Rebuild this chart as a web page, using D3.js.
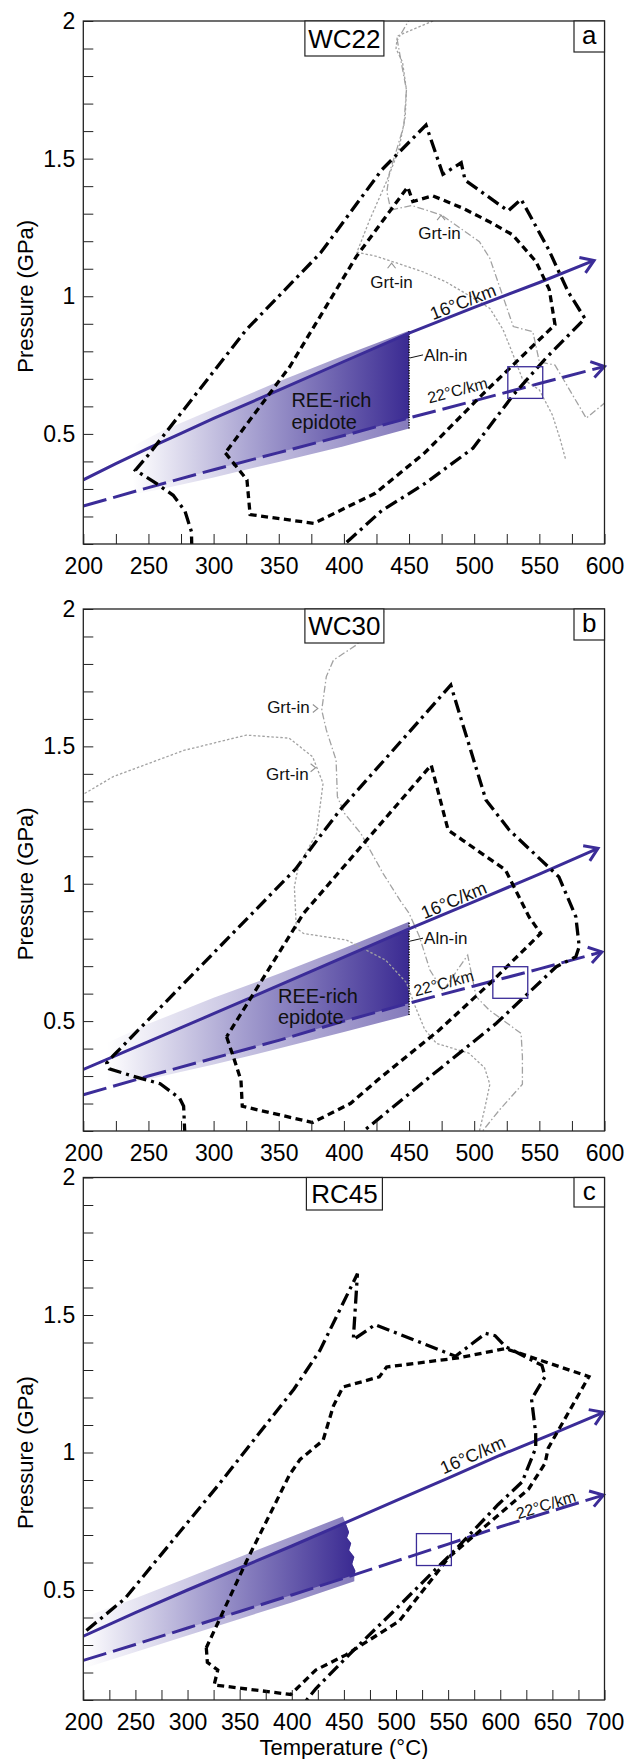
<!DOCTYPE html>
<html><head><meta charset="utf-8">
<script src="https://cdn.jsdelivr.net/npm/d3@7"></script>
<style>body{margin:0;background:#fff} svg{display:block}</style>
</head><body>
<svg id="chart" width="635" height="1759"></svg>
<script>
// ---------------- DATA (temperature °C, pressure GPa) ----------------
const xTickLabelsAB = [200,250,300,350,400,450,500,550,600];
const xTickLabelsC  = [200,250,300,350,400,450,500,550,600,650,700];
const yTickLabels   = [0.5,1,1.5,2];

// Panel a (WC22)
const aOuter = [[283.3,0.08],[283,0.145],[278,0.22],[269,0.277],[256,0.32],[240,0.368],[250,0.424],[325,0.878],[382,1.157],[429,1.459],[463,1.622],[476,1.443],[490,1.485],[493,1.422],[526,1.31],[536,1.352],[557,1.171],[572,1.017],[585,0.919],[555,0.775],[530,0.641],[499,0.448],[462,0.319],[429,0.221],[396,0.08]];
const aInner = [[309,0.431],[325.6,0.333],[328,0.207],[377,0.175],[424,0.284],[462,0.431],[505.6,0.64],[562,0.897],[557.6,1.025],[547.4,1.126],[529.5,1.223],[511.6,1.271],[491.2,1.32],[468.2,1.365],[452.9,1.344],[449,1.397],[409.5,1.144],[358.4,0.744],[309,0.431]];
const aGreyDot = [[478,2.02],[441,1.945],[440,1.9],[445,1.85],[448,1.75],[447,1.65],[442,1.53],[433,1.42],[420,1.28],[410,1.16],[425,1.145],[441,1.12],[460,1.09],[478,1.053],[497,1.0],[512,0.956],[522,0.88],[528,0.81],[537,0.7],[550,0.66],[560,0.569],[566,0.48],[570,0.41]];
const aGreyDD = [[452,2.02],[441,1.93],[444,1.85],[448,1.75],[446,1.62],[441,1.54],[435,1.45],[433,1.38],[436,1.313],[452,1.33],[475,1.295],[504,1.198],[512,1.138],[530,0.89],[545,0.871],[550,0.762],[562,0.75],[586,0.557],[602,0.62]];
const aGeo16 = [[200,0.333],[225,0.392],[250,0.448],[275,0.502],[300,0.556],[350,0.659],[400,0.763],[450,0.866],[500,0.96],[550,1.05],[592,1.13]];
const aGeo22 = [[200,0.238],[250,0.305],[300,0.37],[350,0.432],[400,0.494],[450,0.558],[500,0.62],[550,0.683],[600,0.745]];
const aBandTop = [[238,0.455],[260,0.51],[300,0.59],[350,0.69],[400,0.785],[450,0.875]];
const aBandBottom = [[450,0.52],[400,0.455],[350,0.398],[300,0.342],[260,0.3],[238,0.28]];
const aSquare = [[525.8,0.629],[552.6,0.744]];

// Panel b (WC30)
const bOuter = [[278,0.08],[277,0.19],[274,0.219],[259,0.272],[238,0.3],[220,0.326],[218,0.347],[223,0.374],[363,1.054],[382,1.175],[397,1.268],[482,1.723],[509,1.305],[527,1.195],[565,1.025],[578,0.88],[580.6,0.771],[578,0.734],[563,0.698],[517,0.492],[466,0.297],[410,0.08]];
const bInner = [[310,0.443],[316,0.358],[321,0.285],[322,0.19],[376,0.131],[405,0.2],[427,0.29],[473,0.467],[512,0.637],[551,0.819],[542,0.88],[524,1.05],[491,1.159],[480,1.195],[467,1.432],[369,0.892],[310,0.443]];
const bGreyDot = [[198,1.32],[223,1.39],[277,1.485],[325,1.541],[358,1.53],[376,1.462],[384,1.365],[379,1.183],[365,1.062],[362,0.989],[363.5,0.838],[369,0.819],[402,0.795],[432,0.722],[448,0.64],[455,0.55],[462,0.47],[471,0.419],[496,0.383],[508,0.33],[512,0.27],[508,0.18],[503,0.08]];
const bGreyDD = [[435,2.02],[422,1.93],[409.5,1.869],[392,1.814],[386.5,1.754],[383,1.632],[386.5,1.56],[394,1.45],[395,1.317],[400.5,1.256],[413,1.183],[430,1.038],[443,0.94],[450,0.893],[458,0.807],[466,0.686],[476,0.61],[495,0.74],[501.5,0.589],[511.6,0.54],[536,0.455],[537,0.37],[537,0.27],[520,0.18],[503,0.08]];
const bGeo16 = [[200,0.324],[250,0.425],[300,0.527],[350,0.63],[400,0.733],[450,0.836],[500,0.935],[550,1.035],[595,1.129]];
const bGeo22 = [[200,0.232],[250,0.3],[300,0.365],[350,0.43],[400,0.5],[450,0.565],[500,0.628],[550,0.69],[598,0.752]];
const bBandTop = [[218,0.42],[250,0.49],[300,0.585],[350,0.672],[400,0.765],[450,0.862]];
const bBandBottom = [[450,0.522],[400,0.46],[350,0.4],[300,0.342],[250,0.288],[218,0.262]];
const bSquare = [[514.3,0.583],[541.1,0.698]];

// Panel c (RC45)
const cOuter = [[203,0.353],[240,0.469],[329,0.879],[402,1.23],[427,1.371],[463,1.65],[459,1.41],[480,1.465],[557,1.35],[586,1.433],[595,1.425],[605,1.385],[640,1.317],[643,1.276],[630,1.194],[634,1.07],[634,1.016],[621,0.893],[598,0.811],[557,0.647],[497,0.42],[459,0.28],[423,0.141],[410,0.08]];
const cInner = [[318,0.29],[319,0.237],[329,0.209],[325.5,0.155],[399,0.12],[423,0.209],[452,0.264],[503,0.387],[551,0.62],[627,0.866],[643,0.961],[646,1.016],[685,1.276],[605,1.378],[560,1.344],[491,1.311],[484,1.275],[449,1.238],[440,1.17],[430,1.044],[408,0.975],[398,0.92],[357,0.608],[318,0.29]];
const cGeo16 = [[200,0.332],[250,0.418],[300,0.5],[350,0.58],[400,0.66],[450,0.742],[500,0.825],[550,0.907],[600,0.99],[650,1.068],[699,1.146]];
const cGeo22 = [[200,0.244],[250,0.302],[300,0.362],[350,0.422],[400,0.482],[450,0.543],[500,0.605],[550,0.667],[600,0.73],[650,0.788],[699,0.845]];
const cBandTop = [[200,0.40],[250,0.47],[300,0.545],[350,0.62],[400,0.695],[449,0.767]];
const cBandRight = [[452,0.74],[455,0.71],[453,0.69],[457,0.67],[455,0.645],[460,0.62],[458,0.595],[461,0.57],[460,0.545]];
const cBandBottom = [[460,0.532],[400,0.455],[350,0.395],[300,0.335],[250,0.275],[200,0.215]];
const cSquare = [[519.6,0.589],[553.1,0.705]];

// ---------------- PANEL TABLE ----------------
const panels = [
  {key:"a", sample:"WC22", letter:"a", tDomain:[200,600], xLabels:xTickLabelsAB, top:21, bottom:544,
   outer:aOuter, inner:aInner, greyDot:aGreyDot, greyDD:aGreyDD, geo16:aGeo16, geo22:aGeo22,
   band:aBandTop.concat(aBandBottom), bandT:[238,450], aln:{t:450,p0:0.52,p1:0.875,lp:0.787}, square:aSquare,
   l16:{t:494,off:3}, l22:{t:490,off:9},
   grt:[{t:473.3,p:1.229},{t:436.6,p:1.053}], grtArrows:[{t:474.6,p:1.295,dir:"up"},{t:436.6,p:1.12,dir:"up"}],
   ree:{t:359.7,p1:0.623,p2:0.545}, boxW:79, boxH:35, letterH:31},
  {key:"b", sample:"WC30", letter:"b", tDomain:[200,600], xLabels:xTickLabelsAB, top:609, bottom:1131,
   outer:bOuter, inner:bInner, greyDot:bGreyDot, greyDD:bGreyDD, geo16:bGeo16, geo22:bGeo22,
   band:bBandTop.concat(bBandBottom), bandT:[218,450], aln:{t:450,p0:0.522,p1:0.862,lp:0.802}, square:bSquare,
   l16:{t:487,off:3}, l22:{t:478.7,off:5},
   grt:[{t:357.4,p:1.642},{t:356.6,p:1.4}], grtArrows:[{t:380,p:1.638,dir:"right"},{t:378.3,p:1.422,dir:"right"}],
   ree:{t:349.4,p1:0.591,p2:0.516}, boxW:79, boxH:34, letterH:31},
  {key:"c", sample:"RC45", letter:"c", tDomain:[200,700], xLabels:xTickLabelsC, top:1177.5, bottom:1700,
   outer:cOuter, inner:cInner, greyDot:null, greyDD:null, geo16:cGeo16, geo22:cGeo22,
   band:cBandTop.concat(cBandRight, cBandBottom), bandT:[200,460], aln:null, square:cSquare,
   l16:{t:578,off:5}, l22:{t:646,off:2},
   grt:[], grtArrows:[], ree:null, boxW:76, boxH:32.5, letterH:29.5, xTitle:"Temperature (\u00B0C)"}
];

// ---------------- DRAWING ----------------
const FONT = '"Liberation Sans", Arial, Helvetica, sans-serif';
const BLUE = "#3b2c98";
const GREY = "#a2a2a2";
const LEFT = 83.3, RIGHT = 604.5;
const svg = d3.select("#chart");
const defs = svg.append("defs");

function interp(arr, t){
  for (let i = 0; i < arr.length - 1; i++){
    const [t0,p0] = arr[i], [t1,p1] = arr[i+1];
    if (t >= t0 && t <= t1) return p0 + (p1 - p0) * (t - t0) / (t1 - t0);
  }
  const n = arr.length;
  const [t0,p0] = t < arr[0][0] ? arr[0] : arr[n-2];
  const [t1,p1] = t < arr[0][0] ? arr[1] : arr[n-1];
  return p0 + (p1 - p0) * (t - t0) / (t1 - t0);
}

panels.forEach(cfg => {
  const x = d3.scaleLinear().domain(cfg.tDomain).range([LEFT, RIGHT]);
  const y = d3.scaleLinear().domain([0.1, 2]).range([cfg.bottom, cfg.top]);
  const line = d3.line().x(d => x(d[0])).y(d => y(d[1]));
  const g = svg.append("g");

  defs.append("clipPath").attr("id", "clip-" + cfg.key)
    .append("rect").attr("x", LEFT).attr("y", cfg.top).attr("width", RIGHT - LEFT).attr("height", cfg.bottom - cfg.top);
  const grad = defs.append("linearGradient").attr("id", "grad-" + cfg.key)
    .attr("gradientUnits", "userSpaceOnUse")
    .attr("x1", x(cfg.bandT[0])).attr("x2", x(cfg.bandT[1])).attr("y1", 0).attr("y2", 0);
  grad.append("stop").attr("offset", 0).attr("stop-color", "#ffffff");
  grad.append("stop").attr("offset", 0.45).attr("stop-color", "#a49ecf");
  grad.append("stop").attr("offset", 1).attr("stop-color", "#3a2a92");
  defs.append("clipPath").attr("id", "bandclip-" + cfg.key)
    .append("path").attr("d", line(cfg.band) + "Z");

  const plot = g.append("g").attr("clip-path", `url(#clip-${cfg.key})`);

  // REE-rich epidote band
  plot.append("path").attr("d", line(cfg.band) + "Z")
    .attr("fill", `url(#grad-${cfg.key})`).attr("opacity", 0.62);
  const core = cfg.geo16.concat(cfg.geo22.slice().reverse());
  plot.append("g").attr("clip-path", `url(#bandclip-${cfg.key})`)
    .append("path").attr("d", line(core) + "Z").attr("fill", `url(#grad-${cfg.key})`);

  // grey reaction curves
  if (cfg.greyDot) plot.append("path").attr("d", line(cfg.greyDot)).attr("fill", "none")
    .attr("stroke", GREY).attr("stroke-width", 1.3).attr("stroke-dasharray", "2.5,2");
  if (cfg.greyDD) plot.append("path").attr("d", line(cfg.greyDD)).attr("fill", "none")
    .attr("stroke", GREY).attr("stroke-width", 1.3).attr("stroke-dasharray", "7,2.5,1.5,2.5");
  cfg.grtArrows.forEach(a => {
    const px = x(a.t), py = y(a.p);
    const d = a.dir === "up" ? `M${px-4},${py+5}L${px},${py}L${px+4},${py+5}` : `M${px-5},${py-4}L${px},${py}L${px-5},${py+4}`;
    plot.append("path").attr("d", d).attr("fill", "none").attr("stroke", "#939393").attr("stroke-width", 1.1);
  });

  // Aln-in boundary
  if (cfg.aln) {
    plot.append("line").attr("x1", x(cfg.aln.t)).attr("x2", x(cfg.aln.t))
      .attr("y1", y(cfg.aln.p0)).attr("y2", y(cfg.aln.p1))
      .attr("stroke", "#111").attr("stroke-width", 1.6).attr("stroke-dasharray", "1.2,1.4");
  }

  // geotherms
  plot.append("path").attr("d", line(cfg.geo16)).attr("fill", "none")
    .attr("stroke", BLUE).attr("stroke-width", 3);
  plot.append("path").attr("d", line(cfg.geo22)).attr("fill", "none")
    .attr("stroke", BLUE).attr("stroke-width", 3).attr("stroke-dasharray", "24,7");
  [cfg.geo16, cfg.geo22].forEach(geo => {
    const n = geo.length;
    const x1 = x(geo[n-1][0]), y1 = y(geo[n-1][1]);
    const x0 = x(geo[n-2][0]), y0 = y(geo[n-2][1]);
    const ang = Math.atan2(y1 - y0, x1 - x0);
    const L = 15, sp = 0.58;
    const ax = x1 - L * Math.cos(ang - sp), ay = y1 - L * Math.sin(ang - sp);
    const bx = x1 - L * Math.cos(ang + sp), by = y1 - L * Math.sin(ang + sp);
    g.append("path").attr("d", `M${ax},${ay}L${x1},${y1}L${bx},${by}`).attr("fill", "none")
      .attr("stroke", BLUE).attr("stroke-width", 3).attr("stroke-linejoin", "miter");
  });

  // black P-T fields
  plot.append("path").attr("d", line(cfg.outer)).attr("fill", "none")
    .attr("stroke", "#000").attr("stroke-width", 3.3).attr("stroke-dasharray", "13,5,3,5");
  plot.append("path").attr("d", line(cfg.inner)).attr("fill", "none")
    .attr("stroke", "#000").attr("stroke-width", 3.3).attr("stroke-dasharray", "7,4.5");

  // small blue square
  const sq = cfg.square;
  plot.append("rect").attr("x", x(sq[0][0])).attr("y", y(sq[1][1]))
    .attr("width", x(sq[1][0]) - x(sq[0][0])).attr("height", y(sq[0][1]) - y(sq[1][1]))
    .attr("fill", "none").attr("stroke", BLUE).attr("stroke-width", 1.3);

  // geotherm labels
  function geoLabel(geo, spec, text, size){
    const px = x(spec.t), py = y(interp(geo, spec.t));
    const xa = x(spec.t - 15), ya = y(interp(geo, spec.t - 15));
    const xb = x(spec.t + 15), yb = y(interp(geo, spec.t + 15));
    const ang = Math.atan2(yb - ya, xb - xa) * 180 / Math.PI;
    g.append("text").attr("transform", `translate(${px},${py}) rotate(${ang})`)
      .attr("y", -spec.off).attr("text-anchor", "middle")
      .attr("font-family", FONT).attr("font-size", size).attr("fill", "#111").text(text);
  }
  geoLabel(cfg.geo16, cfg.l16, "16\u00B0C/km", 18);
  geoLabel(cfg.geo22, cfg.l22, "22\u00B0C/km", 16);

  // text labels
  cfg.grt.forEach(l => {
    g.append("text").attr("x", x(l.t)).attr("y", y(l.p)).attr("dy", "0.35em")
      .attr("text-anchor", "middle").attr("font-family", FONT).attr("font-size", 17)
      .attr("fill", "#111").text("Grt-in");
  });
  if (cfg.aln) {
    const ax = x(cfg.aln.t), ay = y(cfg.aln.lp);
    g.append("line").attr("x1", ax + 1).attr("y1", ay + 3).attr("x2", ax + 14).attr("y2", ay)
      .attr("stroke", "#111").attr("stroke-width", 1);
    g.append("text").attr("x", ax + 15).attr("y", ay).attr("dy", "0.35em")
      .attr("font-family", FONT).attr("font-size", 17).attr("fill", "#111").text("Aln-in");
  }
  if (cfg.ree) {
    g.append("text").attr("x", x(cfg.ree.t)).attr("y", y(cfg.ree.p1)).attr("dy", "0.35em")
      .attr("font-family", FONT).attr("font-size", 20).attr("fill", "#111").text("REE-rich");
    g.append("text").attr("x", x(cfg.ree.t)).attr("y", y(cfg.ree.p2)).attr("dy", "0.35em")
      .attr("font-family", FONT).attr("font-size", 20).attr("fill", "#111").text("epidote");
  }

  // axes
  const xTicksAll = [];
  cfg.xLabels.forEach((v, i) => { xTicksAll.push(v); if (i < cfg.xLabels.length - 1) xTicksAll.push((v + cfg.xLabels[i+1]) / 2); });
  const xAxis = d3.axisBottom(x).tickValues(xTicksAll).tickSize(-10).tickPadding(14)
    .tickFormat(d => cfg.xLabels.includes(d) ? String(d) : "");
  const gx = g.append("g").attr("transform", `translate(0,${cfg.bottom})`).call(xAxis);
  const yTicksAll = d3.range(1, 21).map(i => i / 10);
  const yAxis = d3.axisLeft(y).tickValues(yTicksAll).tickSize(-10).tickPadding(8)
    .tickFormat(d => yTickLabels.some(v => Math.abs(v - d) < 1e-6) ? String(+d.toFixed(1)) : "");
  const gy = g.append("g").attr("transform", `translate(${LEFT},0)`).call(yAxis);
  [gx, gy].forEach(ax => {
    ax.select(".domain").remove();
    ax.selectAll(".tick line").attr("stroke", "#222").attr("stroke-width", 1);
    ax.selectAll(".tick text").attr("font-family", FONT).attr("font-size", 23).attr("fill", "#000");
  });

  // frame
  g.append("rect").attr("x", LEFT).attr("y", cfg.top).attr("width", RIGHT - LEFT).attr("height", cfg.bottom - cfg.top)
    .attr("fill", "none").attr("stroke", "#222").attr("stroke-width", 1.3);

  // sample & letter boxes
  const bx = (LEFT + RIGHT) / 2 - cfg.boxW / 2 + 0.5;
  g.append("rect").attr("x", bx).attr("y", cfg.top).attr("width", cfg.boxW).attr("height", cfg.boxH)
    .attr("fill", "#fff").attr("stroke", "#222").attr("stroke-width", 1.2);
  g.append("text").attr("x", bx + cfg.boxW / 2).attr("y", cfg.top + cfg.boxH / 2).attr("dy", "0.36em")
    .attr("text-anchor", "middle").attr("font-family", FONT).attr("font-size", 26).attr("fill", "#000").text(cfg.sample);
  g.append("rect").attr("x", RIGHT - 30.5).attr("y", cfg.top).attr("width", 30.5).attr("height", cfg.letterH)
    .attr("fill", "#fff").attr("stroke", "#222").attr("stroke-width", 1.2);
  g.append("text").attr("x", RIGHT - 15.25).attr("y", cfg.top + cfg.letterH / 2).attr("dy", "0.28em")
    .attr("text-anchor", "middle").attr("font-family", FONT).attr("font-size", 26).attr("fill", "#000").text(cfg.letter);

  // axis titles
  g.append("text").attr("transform", `translate(33,${y(1.0)}) rotate(-90)`)
    .attr("text-anchor", "middle").attr("font-family", FONT).attr("font-size", 22).attr("fill", "#000")
    .text("Pressure (GPa)");
  if (cfg.xTitle) {
    g.append("text").attr("x", (LEFT + RIGHT) / 2).attr("y", cfg.bottom + 55)
      .attr("text-anchor", "middle").attr("font-family", FONT).attr("font-size", 22).attr("fill", "#000")
      .text(cfg.xTitle);
  }
});
</script>
</body></html>
